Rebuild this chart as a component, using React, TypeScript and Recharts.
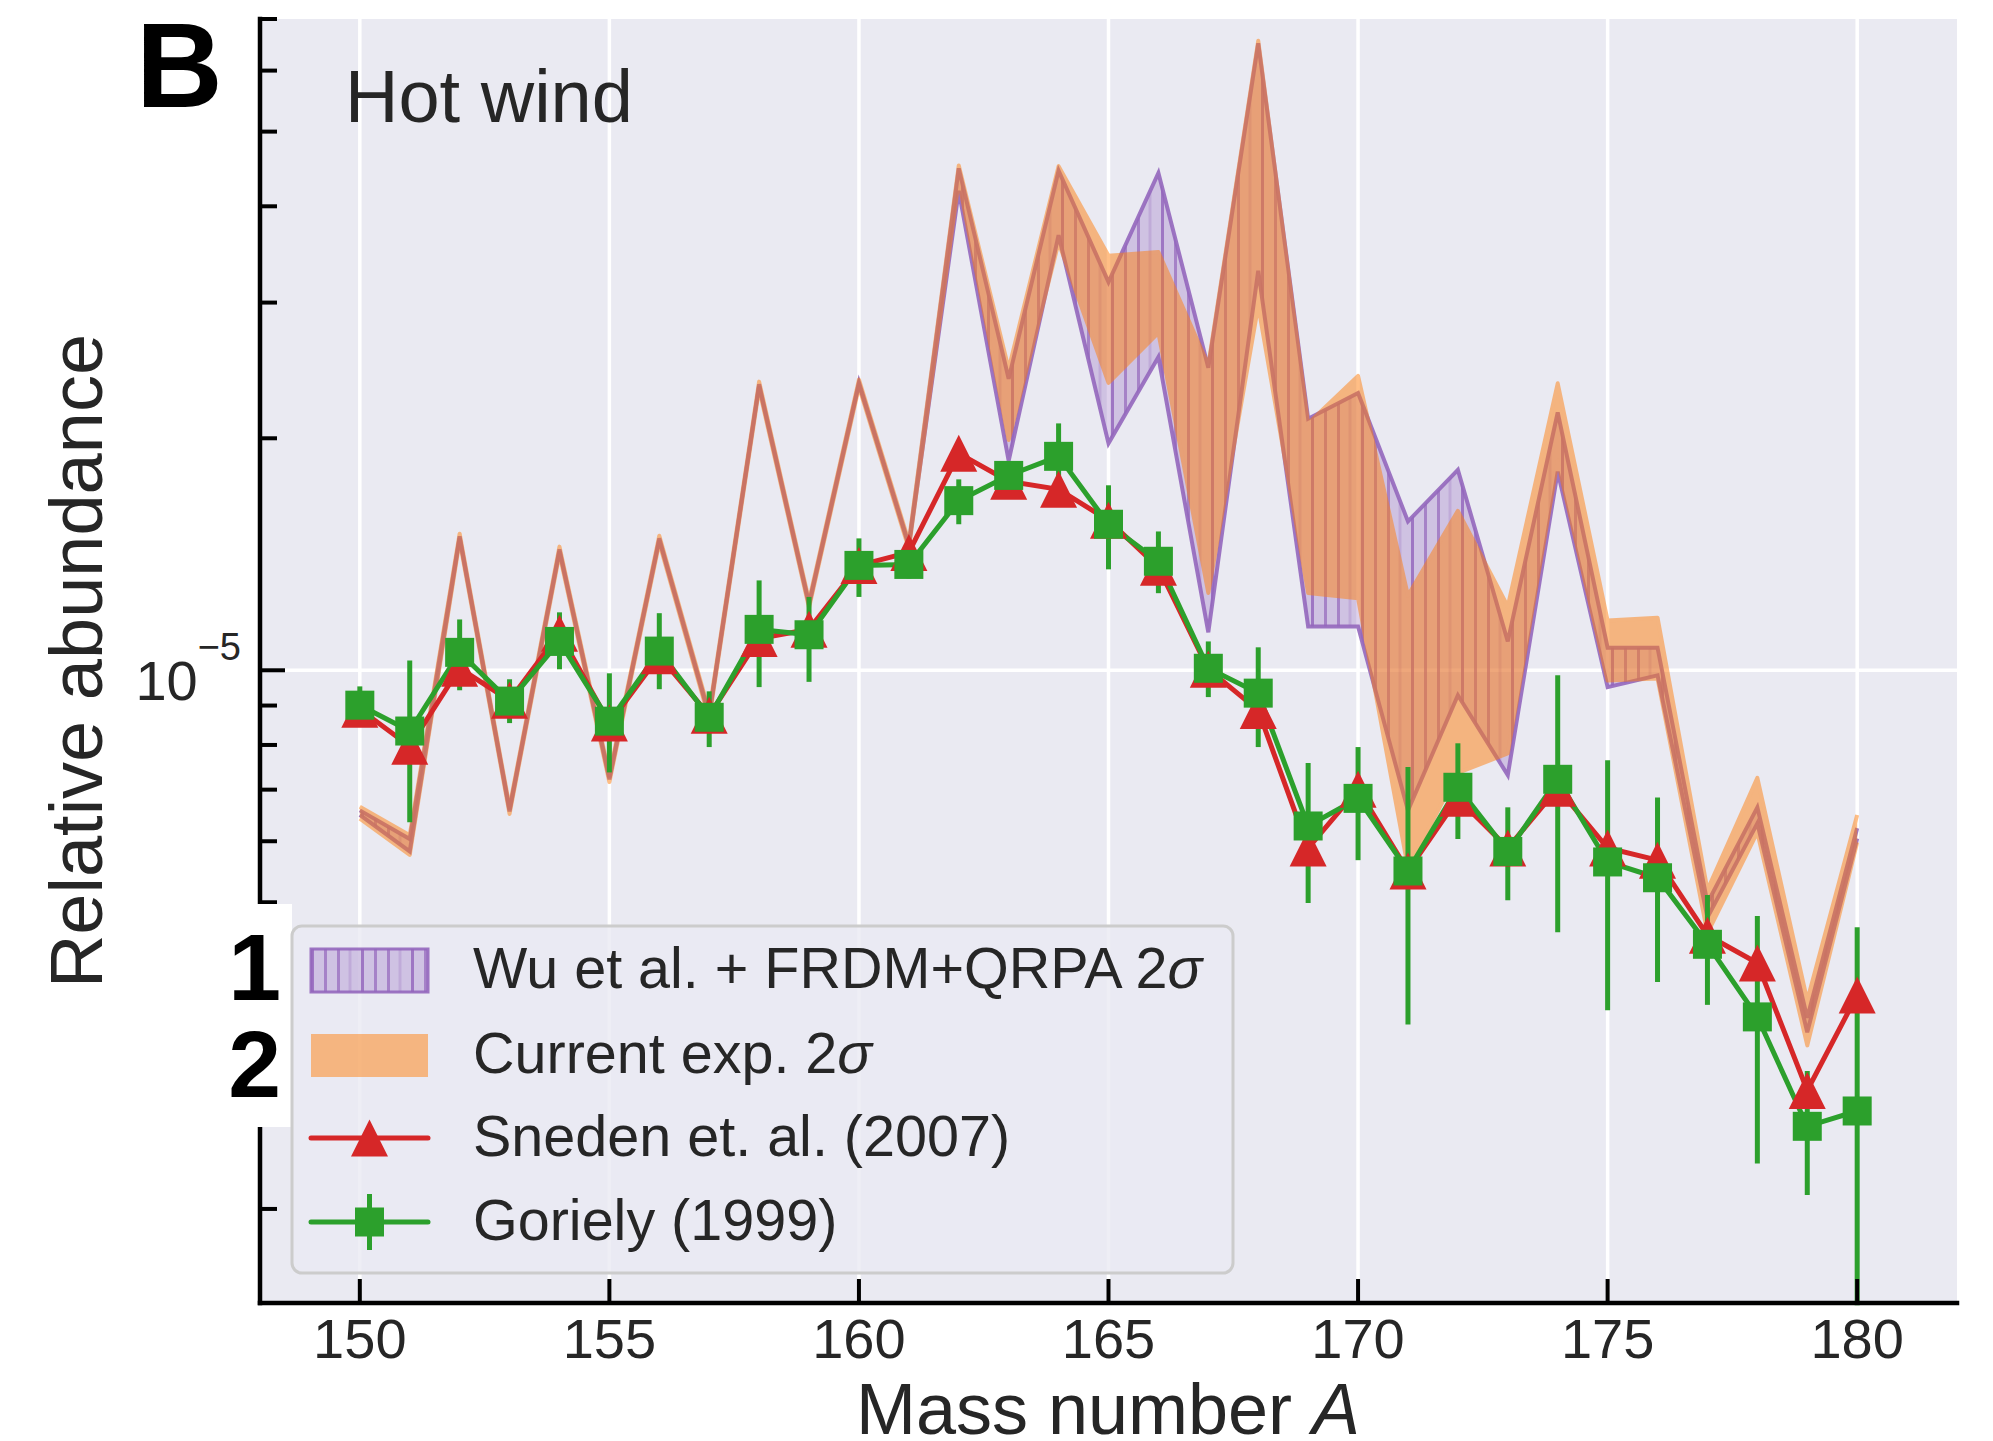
import React from 'react';
import { ComposedChart, Area, Line, XAxis, YAxis, CartesianGrid, ErrorBar } from 'recharts';

// Mass numbers A on the x axis
const massNumbers = [
  150, 151, 152, 153, 154, 155, 156, 157, 158, 159,
  160, 161, 162, 163, 164, 165, 166, 167, 168, 169,
  170, 171, 172, 173, 174, 175, 176, 177, 178, 179, 180,
];

// Sneden et al. (2007) solar r-process abundances
const snedenAbundance = [
  8.9e-6, 7.97e-6, 1.006e-5, 9.14e-6, 1.117e-5, 8.54e-6, 1.044e-5, 8.74e-6, 1.1e-5, 1.13e-5,
  1.368e-5, 1.422e-5, 1.912e-5, 1.759e-5, 1.717e-5, 1.565e-5, 1.36e-5, 1.003e-5, 8.87e-6, 5.88e-6,
  7.01e-6, 5.49e-6, 6.82e-6, 5.88e-6, 7.03e-6, 5.88e-6, 5.67e-6, 4.53e-6, 4.17e-6, 2.85e-6, 3.79e-6,
];

// Goriely (1999) abundances with their lower / upper error limits
const gorielyAbundance = [
  9.01e-6, 8.34e-6, 1.055e-5, 9.12e-6, 1.09e-5, 8.59e-6, 1.059e-5, 8.69e-6, 1.13e-5, 1.112e-5,
  1.368e-5, 1.372e-5, 1.66e-5, 1.79e-5, 1.895e-5, 1.547e-5, 1.385e-5, 1.006e-5, 9.34e-6, 6.28e-6,
  6.82e-6, 5.49e-6, 7.05e-6, 5.82e-6, 7.22e-6, 5.64e-6, 5.38e-6, 4.41e-6, 3.55e-6, 2.56e-6, 2.68e-6,
];
const gorielyLow = [
  8.64e-6, 6.35e-6, 9.42e-6, 8.54e-6, 1.003e-5, 7.37e-6, 9.45e-6, 7.95e-6, 9.51e-6, 9.66e-6,
  1.245e-5, 1.316e-5, 1.547e-5, 1.75e-5, 1.707e-5, 1.352e-5, 1.259e-5, 9.23e-6, 7.95e-6, 4.99e-6,
  5.67e-6, 3.47e-6, 6.04e-6, 5.03e-6, 4.57e-6, 3.62e-6, 3.94e-6, 3.68e-6, 2.29e-6, 2.085e-6, 1.5e-6,
];
const gorielyHigh = [
  9.53e-6, 1.03e-5, 1.164e-5, 9.735e-6, 1.189e-5, 9.91e-6, 1.186e-5, 9.39e-6, 1.308e-5, 1.245e-5,
  1.483e-5, 1.439e-5, 1.769e-5, 1.83e-5, 2.091e-5, 1.738e-5, 1.514e-5, 1.09e-5, 1.071e-5, 7.58e-6,
  7.95e-6, 7.49e-6, 8.04e-6, 6.64e-6, 9.85e-6, 7.64e-6, 6.84e-6, 5.11e-6, 4.8e-6, 3.02e-6, 4.64e-6,
];

// Wu et al. + FRDM+QRPA 2-sigma band
const wuLower = [
  6.49e-6, 5.82e-6, 1.484e-5, 6.56e-6, 1.427e-5, 7.22e-6, 1.475e-5, 8.71e-6, 2.336e-5, 1.214e-5,
  2.35e-5, 1.449e-5, 4.19e-5, 1.87e-5, 3.67e-5, 1.97e-5, 2.55e-5, 1.12e-5, 3.3e-5, 1.14e-5,
  1.14e-5, 6.58e-6, 9.28e-6, 7.31e-6, 1.81e-5, 9.51e-6, 9.85e-6, 4.78e-6, 6.33e-6, 3.39e-6, 6.05e-6,
];
const wuUpper = [
  6.58e-6, 6.04e-6, 1.492e-5, 6.6e-6, 1.435e-5, 7.26e-6, 1.483e-5, 8.77e-6, 2.35e-5, 1.222e-5,
  2.364e-5, 1.457e-5, 4.48e-5, 2.39e-5, 4.45e-5, 3.19e-5, 4.42e-5, 2.47e-5, 6.51e-5, 2.12e-5,
  2.29e-5, 1.56e-5, 1.82e-5, 1.09e-5, 2.16e-5, 1.07e-5, 1.07e-5, 4.99e-6, 6.64e-6, 3.54e-6, 6.24e-6,
];

// Current experimental 2-sigma band
const expLower = [
  6.42e-6, 5.76e-6, 1.472e-5, 6.51e-6, 1.415e-5, 7.16e-6, 1.463e-5, 8.64e-6, 2.317e-5, 1.205e-5,
  2.331e-5, 1.437e-5, 4.32e-5, 1.99e-5, 3.59e-5, 2.36e-5, 2.74e-5, 1.26e-5, 2.97e-5, 1.26e-5,
  1.24e-5, 5.54e-6, 7.36e-6, 7.8e-6, 1.87e-5, 9.7e-6, 9.76e-6, 4.56e-6, 6.16e-6, 3.26e-6, 5.98e-6,
];
const expUpper = [
  6.65e-6, 6.11e-6, 1.504e-5, 6.65e-6, 1.447e-5, 7.32e-6, 1.495e-5, 8.84e-6, 2.369e-5, 1.231e-5,
  2.383e-5, 1.469e-5, 4.52e-5, 2.46e-5, 4.51e-5, 3.45e-5, 3.49e-5, 2.49e-5, 6.56e-5, 2.09e-5,
  2.41e-5, 1.25e-5, 1.61e-5, 1.21e-5, 2.357e-5, 1.16e-5, 1.17e-5, 5.19e-6, 7.25e-6, 3.73e-6, 6.49e-6,
];

const xTicks = [150, 155, 160, 165, 170, 175, 180];
const yTicks = [2e-6, 3e-6, 4e-6, 5e-6, 6e-6, 7e-6, 8e-6, 9e-6, 1e-5, 2e-5, 3e-5, 4e-5, 5e-5, 6e-5, 7e-5];
const yMajor = 1e-5;

const W = 1993;
const H = 1441;
const FONT = '"Liberation Sans", Arial, Helvetica, sans-serif';
const INK = '#262626';
const PURPLE = '#9467bd';
const ORANGE = '#ff7f0e';
const RED = '#d62728';
const GREEN = '#2ca02c';

const chartData = massNumbers.map((A, i) => ({
  A,
  wu: [wuLower[i], wuUpper[i]],
  exp: [expLower[i], expUpper[i]],
  sneden: snedenAbundance[i],
  goriely: gorielyAbundance[i],
  gorielyErr: [gorielyAbundance[i] - gorielyLow[i], gorielyHigh[i] - gorielyAbundance[i]],
}));

const TRI = 37;
const SQ = 29;

const renderTriangle = (props: any) => {
  const { cx, cy, index } = props;
  if (cx == null || cy == null) return <g key={`tri-${index}`} />;
  const h = TRI / 2;
  return (
    <polygon
      key={`tri-${index}`}
      points={`${cx},${cy - h} ${cx - h},${cy + h} ${cx + h},${cy + h}`}
      fill={RED}
    />
  );
};

const renderSquare = (props: any) => {
  const { cx, cy, index } = props;
  if (cx == null || cy == null) return <g key={`sq-${index}`} />;
  return <rect key={`sq-${index}`} x={cx - SQ / 2} y={cy - SQ / 2} width={SQ} height={SQ} fill={GREEN} />;
};

// ticks point into the plot, labels sit outside
const renderXTick = (props: any) => {
  const { x, y, payload } = props;
  return (
    <g>
      <line x1={x} x2={x} y1={y} y2={y - 24} stroke="#000" strokeWidth={4} />
      <text x={x} y={y + 55} textAnchor="middle" fontSize={56} fill={INK} fontFamily={FONT}>
        {payload.value}
      </text>
    </g>
  );
};

const renderYTick = (props: any) => {
  const { x, y, payload } = props;
  const major = payload.value === yMajor;
  return (
    <g>
      <line x1={x} x2={x + (major ? 25 : 17)} y1={y} y2={y} stroke="#000" strokeWidth={4} />
      {major && (
        <text x={x - 19} y={y + 30} textAnchor="end" fontSize={56} fill={INK} fontFamily={FONT}>
          10
          <tspan dy={-40} fontSize={38}>
            −5
          </tspan>
        </text>
      )}
    </g>
  );
};

const HatchPattern = ({ id }: { id: string }) => (
  <pattern id={id} patternUnits="userSpaceOnUse" x={11} y={0} width={50} height={20}>
    <rect width={50} height={20} fill={PURPLE} fillOpacity={0.3} />
    <line x1={1.5} x2={1.5} y1={0} y2={20} stroke={PURPLE} strokeOpacity={0.85} strokeWidth={3} />
    <line x1={14.5} x2={14.5} y1={0} y2={20} stroke={PURPLE} strokeOpacity={0.7} strokeWidth={3} />
    <line x1={27.5} x2={27.5} y1={0} y2={20} stroke={PURPLE} strokeOpacity={0.7} strokeWidth={3} />
    <line x1={39} x2={39} y1={0} y2={20} stroke={PURPLE} strokeOpacity={0.25} strokeWidth={3} />
  </pattern>
);

const legendRows = [
  { label: 'Wu et al. + FRDM+QRPA 2', sigma: true, y: 970 },
  { label: 'Current exp. 2', sigma: true, y: 1055 },
  { label: 'Sneden et. al. (2007)', sigma: false, y: 1138 },
  { label: 'Goriely (1999)', sigma: false, y: 1222 },
];

const Annotations = () => {
  const px = 311;
  const pw = 117;
  const mid = px + pw / 2;
  return (
    <svg width={W} height={H} style={{ position: 'absolute', left: 0, top: 0, pointerEvents: 'none' }} fontFamily={FONT}>
      <defs>
        <HatchPattern id="legendHatch" />
      </defs>
      <text x={136} y={107} fontSize={120} fontWeight="bold" fill="#000">B</text>
      <text x={345} y={122} fontSize={74} fill={INK}>Hot wind</text>
      <text transform="translate(102 661) rotate(-90)" textAnchor="middle" fontSize={74} fill={INK}>
        Relative abundance
      </text>
      <text x={1108} y={1434} textAnchor="middle" fontSize={72} fill={INK}>
        Mass number <tspan fontStyle="italic">A</tspan>
      </text>

      <rect x={200} y={904} width={92} height={223} fill="#fff" />
      <text x={281} y={1000} textAnchor="end" fontSize={95} fontWeight="bold" fill="#000">1</text>
      <text x={281} y={1097} textAnchor="end" fontSize={95} fontWeight="bold" fill="#000">2</text>

      <rect x={292} y={926} width={941} height={347} rx={10} fill="#eaeaf2" fillOpacity={0.8} stroke="#cccccc" strokeWidth={3} />
      <rect x={px} y={949} width={pw} height={43} fill="url(#legendHatch)" stroke={PURPLE} strokeOpacity={0.9} strokeWidth={3} />
      <rect x={px} y={1034} width={pw} height={43} fill={ORANGE} fillOpacity={0.5} />
      <line x1={px} x2={px + pw} y1={1138} y2={1138} stroke={RED} strokeWidth={5} strokeLinecap="round" />
      <polygon points={`${mid},${1138 - TRI / 2} ${mid - TRI / 2},${1138 + TRI / 2} ${mid + TRI / 2},${1138 + TRI / 2}`} fill={RED} />
      <line x1={px} x2={px + pw} y1={1222} y2={1222} stroke={GREEN} strokeWidth={5} strokeLinecap="round" />
      <line x1={mid} x2={mid} y1={1194} y2={1250} stroke={GREEN} strokeWidth={5} />
      <rect x={mid - SQ / 2} y={1222 - SQ / 2} width={SQ} height={SQ} fill={GREEN} />
      {legendRows.map((r) => (
        <text key={r.label} x={473} y={r.y + 18} fontSize={57.5} fill={INK}>
          {r.label}
          {r.sigma && <tspan fontStyle="italic">σ</tspan>}
        </text>
      ))}
    </svg>
  );
};

export default function App() {
  return (
    <div style={{ position: 'absolute', left: 0, top: 0, width: W, height: H, background: '#fff', fontFamily: FONT }}>
      {/* the experimental band is composited as one translucent layer (fill + edge) */}
      <style>{'.exp-band { opacity: 0.5; }'}</style>
      <ComposedChart width={W} height={H} data={chartData} margin={{ top: 19, right: 36, bottom: 0, left: 0 }}>
        <defs>
          <HatchPattern id="wuHatch" />
        </defs>
        <CartesianGrid
          fill="#eaeaf2"
          stroke="#ffffff"
          strokeWidth={3.5}
          verticalValues={xTicks}
          horizontalValues={[yMajor]}
        />
        <XAxis
          type="number"
          dataKey="A"
          domain={[148, 182]}
          ticks={xTicks}
          interval={0}
          allowDataOverflow
          height={138}
          tickSize={0}
          tickMargin={0}
          tickLine={false}
          tick={renderXTick}
          axisLine={{ stroke: '#000', strokeWidth: 4.5, strokeLinecap: 'square' }}
        />
        <YAxis
          type="number"
          scale="log"
          domain={[1.51e-6, 7e-5]}
          ticks={yTicks}
          interval={0}
          allowDataOverflow
          width={260}
          tickSize={0}
          tickMargin={0}
          tickLine={false}
          tick={renderYTick}
          axisLine={{ stroke: '#000', strokeWidth: 4.5, strokeLinecap: 'square' }}
        />
        <Area
          type="linear"
          dataKey="wu"
          fill="url(#wuHatch)"
          fillOpacity={1}
          stroke={PURPLE}
          strokeOpacity={0.9}
          strokeWidth={4}
          activeDot={false}
          isAnimationActive={false}
        />
        <Area
          type="linear"
          dataKey="exp"
          className="exp-band"
          fill={ORANGE}
          fillOpacity={1}
          stroke={ORANGE}
          strokeWidth={4}
          strokeLinejoin="round"
          activeDot={false}
          isAnimationActive={false}
        />
        <Line
          type="linear"
          dataKey="sneden"
          stroke={RED}
          strokeWidth={5}
          dot={renderTriangle}
          activeDot={false}
          isAnimationActive={false}
        />
        <Line
          type="linear"
          dataKey="goriely"
          stroke={GREEN}
          strokeWidth={5}
          dot={renderSquare}
          activeDot={false}
          isAnimationActive={false}
        >
          <ErrorBar dataKey="gorielyErr" direction="y" width={0} stroke={GREEN} strokeWidth={5} isAnimationActive={false} />
        </Line>
      </ComposedChart>
      <Annotations />
    </div>
  );
}
